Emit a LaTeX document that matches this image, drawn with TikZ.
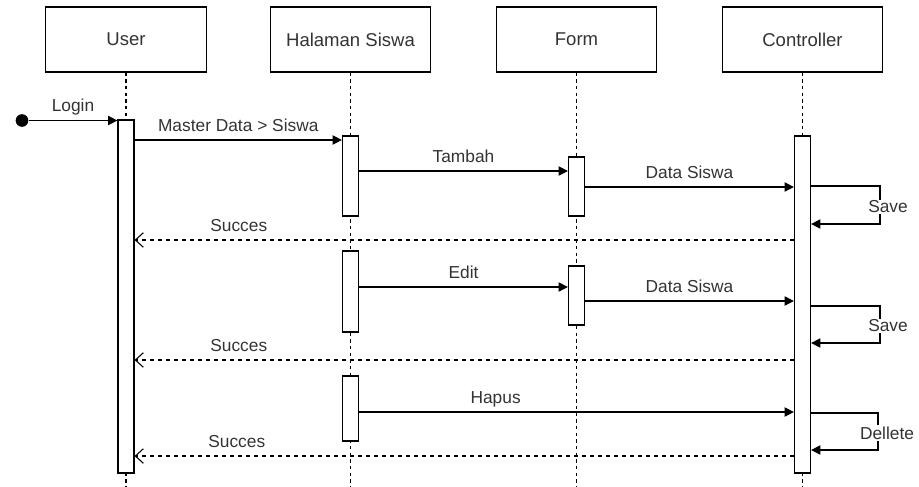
\documentclass[tikz,border=0pt]{standalone}
\usepackage{fontspec}
\setmainfont{Liberation Sans}
\usetikzlibrary{arrows.meta}

\begin{document}
\begin{tikzpicture}[x=0.75pt,y=-0.75pt]
\tikzset{
  headbox/.style={rectangle,draw=black,line width=0.9pt,fill=white,minimum width=120.5pt,minimum height=48.75pt,inner sep=0pt,font=\fontsize{13.9}{16}\selectfont,text=black!80},
  lifeline/.style={draw=black,line width=0.9pt,dash pattern=on 2.5pt off 2.5pt},
  actbox/.style={rectangle,draw=black,line width=0.9pt,fill=white,minimum width=12pt,inner sep=0pt,minimum height=#1*0.75pt},
  msg/.style={draw=black,line width=0.9pt,-{Triangle[length=7pt,width=7pt]}},
  reply/.style={draw=black,line width=0.8pt,dash pattern=on 3pt off 3pt,-{Straight Barb[length=6pt,width=11pt]}},
  msglabel/.style={font=\fontsize{13}{15}\selectfont,text=black!80,inner sep=0pt,anchor=base,yshift=6.4pt},
  looplabel/.style={font=\fontsize{13}{15}\selectfont,text=black!80,inner sep=1pt,fill=white}
}
\useasboundingbox (0,0) rectangle (919,486);
% lifeline heads
\node[headbox] (user) at (126,39.5) {User};
\node[headbox] (page) at (350.5,39.5) {Halaman Siswa};
\node[headbox] (form) at (576.5,39.5) {Form};
\node[headbox] (ctrl) at (802.5,39.5) {Controller};
\draw[lifeline] (user.south) -- (user.south |- 0,486);
\draw[lifeline] (page.south) -- (page.south |- 0,486);
\draw[lifeline] (form.south) -- (form.south |- 0,486);
\draw[lifeline] (ctrl.south) -- (ctrl.south |- 0,486);
% activations
\node[actbox=353] (userAct) at (126,296.5) {};
\node[actbox=80] (pageAct1) at (350.5,176) {};
\node[actbox=81] (pageAct2) at (350.5,291.5) {};
\node[actbox=65] (pageAct3) at (350.5,408.5) {};
\node[actbox=59] (formAct1) at (576.5,186.5) {};
\node[actbox=59] (formAct2) at (576.5,295.5) {};
\node[actbox=337] (ctrlAct) at (802.5,304.5) {};
\node[circle,fill=black,minimum size=9.5pt,inner sep=0pt] (start) at (22,120.5) {};
% messages
\draw[msg] (start) -- (userAct.west |- start) node[msglabel,pos=0.5] {Login};
\draw[msg] (userAct.east |- 0,140) -- (pageAct1.west |- 0,140) node[msglabel,pos=0.5] {Master Data > Siswa};
\draw[msg] (pageAct1.east |- 0,171) -- (formAct1.west |- 0,171) node[msglabel,pos=0.5] {Tambah};
\draw[msg] (formAct1.east |- 0,187) -- (ctrlAct.west |- 0,187) node[msglabel,pos=0.5] {Data Siswa};
\draw[msg] (ctrlAct.east |- 0,186) -- (880,186) -- (880,224) -- (ctrlAct.east |- 0,224);
\node[looplabel] (save1) at (888,207) {Save};
\draw[reply] (ctrlAct.west |- 0,240) -- (userAct.east |- 0,240) node[msglabel,pos=0.842] {Succes};
\draw[msg] (pageAct2.east |- 0,287) -- (formAct2.west |- 0,287) node[msglabel,pos=0.5] {Edit};
\draw[msg] (formAct2.east |- 0,301) -- (ctrlAct.west |- 0,301) node[msglabel,pos=0.5] {Data Siswa};
\draw[msg] (ctrlAct.east |- 0,306) -- (880,306) -- (880,343) -- (ctrlAct.east |- 0,343);
\node[looplabel] (save2) at (888,326) {Save};
\draw[reply] (ctrlAct.west |- 0,360) -- (userAct.east |- 0,360) node[msglabel,pos=0.842] {Succes};
\draw[msg] (pageAct3.east |- 0,412) -- (ctrlAct.west |- 0,412) node[msglabel,pos=0.314] {Hapus};
\draw[msg] (ctrlAct.east |- 0,413) -- (878,413) -- (878,450) -- (ctrlAct.east |- 0,450);
\node[looplabel] (delete) at (887,433) {Dellete};
\draw[reply] (ctrlAct.west |- 0,456) -- (userAct.east |- 0,456) node[msglabel,pos=0.845] {Succes};
\end{tikzpicture}
\end{document}
